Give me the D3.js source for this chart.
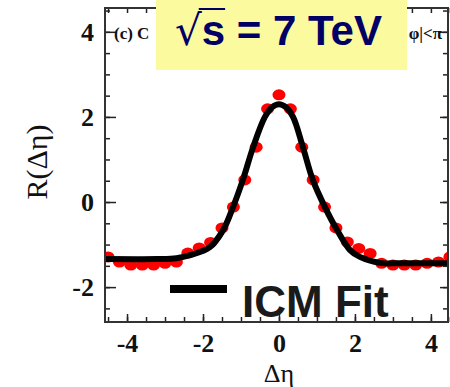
<!DOCTYPE html>
<html>
<head>
<meta charset="utf-8">
<script src="https://cdn.jsdelivr.net/npm/d3@7"></script>
<style>
  body { margin: 0; background: #fff; }
  svg { display: block; }
</style>
</head>
<body>
<svg id="chart" width="450" height="387"></svg>
<script>
// measured correlation R(Δη), bins of 0.3 in Δη
const etaBins = [-4.5, -4.2, -3.9, -3.6, -3.3, -3.0, -2.7, -2.4, -2.1, -1.8, -1.5, -1.2, -0.9, -0.6, -0.3,
  0, 0.3, 0.6, 0.9, 1.2, 1.5, 1.8, 2.1, 2.4, 2.7, 3.0, 3.3, 3.6, 3.9, 4.2, 4.5]
const rValues = [-1.29, -1.41, -1.48, -1.48, -1.48, -1.44, -1.41, -1.20, -1.08, -0.95, -0.61, -0.12, 0.52, 1.29, 2.19,
  2.52, 2.19, 1.29, 0.52, -0.12, -0.61, -0.94, -1.09, -1.21, -1.44, -1.48, -1.48, -1.48, -1.44, -1.41, -1.29]

// ICM fit curve, sampled
const fitEta = [-4.7, -3.2, -2.7, -2.34, -1.82, -1.47, -1.21, -0.95, -0.68, -0.37, -0.18, 0, 0.18, 0.37, 0.63, 0.89, 1.21, 1.53, 1.87, 2.13, 2.66, 3.2, 4.6]
const fitR = [-1.34, -1.34, -1.32, -1.25, -1.06, -0.66, -0.12, 0.52, 1.29, 2.0, 2.23, 2.3, 2.23, 2.0, 1.29, 0.52, -0.12, -0.66, -1.13, -1.29, -1.43, -1.44, -1.44]

const xMajor = [-4, -2, 0, 2, 4]
const yMajor = [-2, 0, 2, 4]

const margin = { left: 105, top: 8, right: 2, bottom: 65 }
const svg = d3.select('#chart')
const width = 450 - margin.left - margin.right
const height = 387 - margin.top - margin.bottom

const x = d3.scaleLinear().domain([-4.58, 4.45]).range([0, width])
const y = d3.scaleLinear().domain([-2.82, 4.56]).range([height, 0])

const g = svg.append('g').attr('transform', `translate(${margin.left},${margin.top})`)

g.append('clipPath').attr('id', 'plot-clip')
  .append('rect').attr('width', width).attr('height', height)

// data points
g.append('g')
  .attr('clip-path', 'url(#plot-clip)')
  .selectAll('ellipse')
  .data(etaBins)
  .enter()
  .append('ellipse')
  .attr('cx', d => x(d))
  .attr('cy', (d, i) => y(rValues[i]))
  .attr('rx', 6.5)
  .attr('ry', 5.5)
  .attr('fill', '#ff0000')

// fit line
const line = d3.line()
  .x(d => x(d[0]))
  .y(d => y(d[1]))
  .curve(d3.curveCatmullRom)
g.append('path')
  .attr('clip-path', 'url(#plot-clip)')
  .datum(fitEta.map((e, i) => [e, fitR[i]]))
  .attr('d', line)
  .attr('fill', 'none')
  .attr('stroke', '#000')
  .attr('stroke-width', 6)

// axes: ticks point inward, minor ticks every 0.5
const xMinor = d3.range(-4.5, 4.51, 0.5)
const yMinor = d3.range(-2.5, 4.51, 0.5)
const styleAxis = sel => {
  sel.select('.domain').remove()
  sel.selectAll('line').attr('stroke', '#222').attr('stroke-width', 1.5)
}
const fmt = d => (d < 0 ? '-' : '') + Math.abs(d)

g.append('g').attr('transform', `translate(0,${height})`)
  .call(d3.axisBottom(x).tickValues(xMinor).tickSize(-5).tickFormat(''))
  .call(styleAxis)
g.append('g')
  .call(d3.axisTop(x).tickValues(xMinor).tickSize(-5).tickFormat(''))
  .call(styleAxis)
g.append('g')
  .call(d3.axisLeft(y).tickValues(yMinor).tickSize(-5).tickFormat(''))
  .call(styleAxis)
g.append('g').attr('transform', `translate(${width},0)`)
  .call(d3.axisRight(y).tickValues(yMinor).tickSize(-5).tickFormat(''))
  .call(styleAxis)

const xAxis = g.append('g').attr('transform', `translate(0,${height})`)
  .call(d3.axisBottom(x).tickValues(xMajor).tickSize(-8).tickPadding(12).tickFormat(fmt))
  .call(styleAxis)
const yAxis = g.append('g')
  .call(d3.axisLeft(y).tickValues(yMajor).tickSize(-11).tickPadding(11).tickFormat(fmt))
  .call(styleAxis)
g.append('g').attr('transform', `translate(${width},0)`)
  .call(d3.axisRight(y).tickValues(yMajor).tickSize(-8).tickFormat(''))
  .call(styleAxis)

for (const ax of [xAxis, yAxis]) {
  ax.selectAll('text')
    .style('font-family', '"Liberation Serif", "DejaVu Serif", serif')
    .style('font-weight', 'bold')
    .style('font-size', '26px')
    .style('fill', '#111')
}

// frame
g.append('rect')
  .attr('width', width)
  .attr('height', height)
  .attr('fill', 'none')
  .attr('stroke', '#333')
  .attr('stroke-width', 2)

// panel labels
const panelFont = sel => sel
  .style('font-family', '"Liberation Serif", serif')
  .style('font-weight', 'bold')
  .style('font-size', '17px')
  .style('fill', '#111')
g.append('text')
  .attr('x', 9).attr('y', 31)
  .call(panelFont)
  .text('(c) C')
g.append('text')
  .attr('x', width - 6).attr('y', 31)
  .attr('text-anchor', 'end')
  .call(panelFont)
  .text('φ|<π')

// axis titles
svg.append('text')
  .attr('x', 279).attr('y', 382)
  .attr('text-anchor', 'middle')
  .style('font-family', '"Liberation Serif", serif')
  .style('font-size', '26px')
  .style('fill', '#111')
  .text('Δη')
svg.append('text')
  .attr('transform', 'translate(47,162) rotate(-90)')
  .attr('text-anchor', 'middle')
  .style('font-family', '"Liberation Serif", serif')
  .style('font-size', '30px')
  .style('fill', '#111')
  .text('R(Δη)')

// legend
svg.append('line')
  .attr('x1', 170).attr('x2', 227)
  .attr('y1', 289).attr('y2', 289)
  .attr('stroke', '#000')
  .attr('stroke-width', 8)
svg.append('text')
  .attr('x', 242).attr('y', 317)
  .style('font-family', '"Liberation Sans", Arial, sans-serif')
  .style('font-weight', 'bold')
  .style('font-size', '44px')
  .style('fill', '#1a1a1a')
  .text('ICM Fit')

// energy banner
svg.append('rect')
  .attr('x', 156).attr('y', 0)
  .attr('width', 251).attr('height', 70)
  .attr('fill', '#fcfa9e')
const banner = svg.append('text')
  .attr('x', 175).attr('y', 45)
  .style('font-family', '"Liberation Sans", Arial, sans-serif')
  .style('font-weight', 'bold')
  .style('font-size', '42px')
  .style('fill', '#000066')
banner.append('tspan')
  .style('font-family', '"DejaVu Serif", serif')
  .style('font-weight', 'normal')
  .text('√')
banner.append('tspan').text('s = 7 TeV')
const node = banner.node()
const radW = node.getSubStringLength(0, 1)
const sW = node.getSubStringLength(1, 1)
svg.append('line')
  .attr('x1', 175 + radW - 3).attr('x2', 175 + radW + sW)
  .attr('y1', 9).attr('y2', 9)
  .attr('stroke', '#000066')
  .attr('stroke-width', 2)
</script>
</body>
</html>
